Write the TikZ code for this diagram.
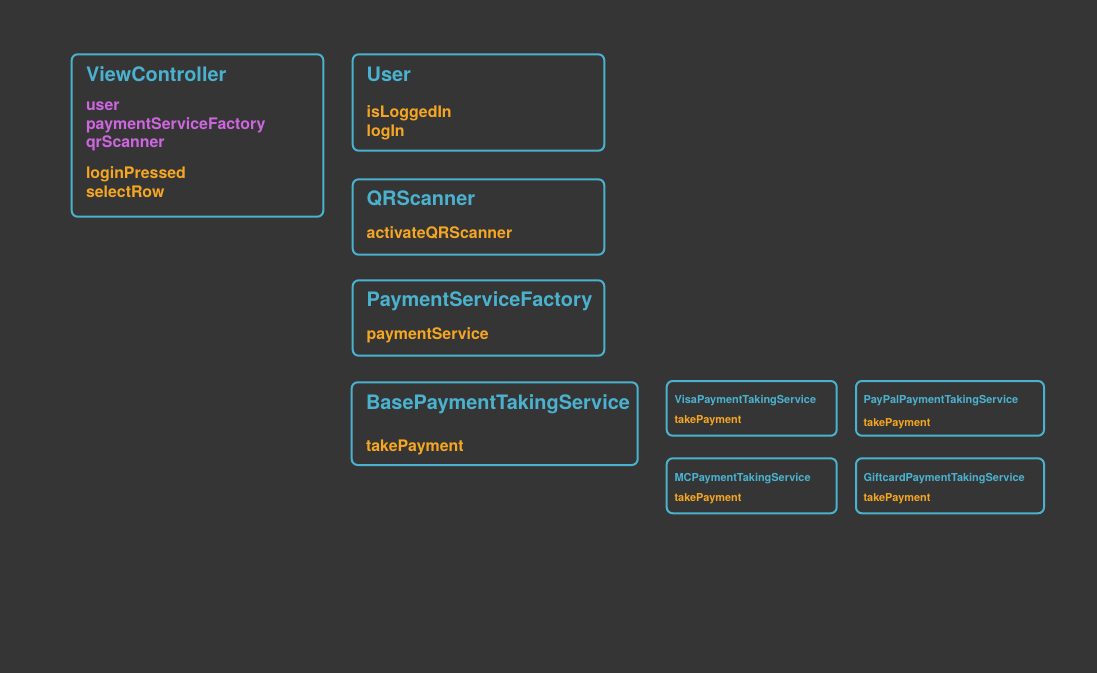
\documentclass[tikz,border=0pt]{standalone}
\usepackage{fontspec}
\setmainfont{TeX Gyre Heros}
\definecolor{bg}{RGB}{53,53,53}
\definecolor{classblue}{RGB}{74,178,207}
\definecolor{propviolet}{RGB}{206,102,224}
\definecolor{methorange}{RGB}{245,166,35}
\tikzset{
  classbox/.style={draw=classblue, line width=2pt, rounded corners=6pt,
    inner sep=0pt, outer sep=0pt, anchor=north west},
  txt/.style={inner sep=0pt, outer sep=0pt, anchor=base west, font=\bfseries},
  bigtitle/.style={txt, text=classblue, font=\bfseries\fontsize{19.9}{22}\selectfont},
  prop/.style={txt, text=propviolet, font=\bfseries\fontsize{15.9}{18}\selectfont},
  meth/.style={txt, text=methorange, font=\bfseries\fontsize{15.9}{18}\selectfont},
  smalltitle/.style={txt, text=classblue, font=\bfseries\fontsize{10.95}{12}\selectfont},
  smallmeth/.style={txt, text=methorange, font=\bfseries\fontsize{10.9}{12}\selectfont},
}
\begin{document}
\begin{tikzpicture}[x=1pt, y=-1pt]
  % canvas
  \path[fill=bg, use as bounding box] (0,0) rectangle (1097,673);

  % ViewController
  \node[classbox, minimum width=251.6pt, minimum height=162.4pt] (vc) at (71.7,54.3) {};
  \node[bigtitle] (vc-title) at (86,81.3) {ViewController};
  \node[prop] (vc-p1) at (86,110.6) {user};
  \node[prop] (vc-p2) at (86,129) {paymentServiceFactory};
  \node[prop] (vc-p3) at (86,147.4) {qrScanner};
  \node[meth] (vc-m1) at (86,178.9) {loginPressed};
  \node[meth] (vc-m2) at (86,197.8) {selectRow};

  % User
  \node[classbox, minimum width=251.6pt, minimum height=96.4pt] (user) at (352.7,54.3) {};
  \node[bigtitle] (user-title) at (366.7,81.3) {User};
  \node[meth] (user-m1) at (366.7,117.9) {isLoggedIn};
  \node[meth] (user-m2) at (366.7,136.2) {logIn};

  % QRScanner
  \node[classbox, minimum width=251.6pt, minimum height=75.4pt] (qr) at (352.7,179.3) {};
  \node[bigtitle] (qr-title) at (366.7,205.9) {QRScanner};
  \node[meth] (qr-m1) at (366.7,238.4) {activateQRScanner};

  % PaymentServiceFactory
  \node[classbox, minimum width=251.6pt, minimum height=75.4pt] (psf) at (352.7,280.3) {};
  \node[bigtitle] (psf-title) at (366.7,306.9) {PaymentServiceFactory};
  \node[meth] (psf-m1) at (366.7,339.4) {paymentService};

  % BasePaymentTakingService
  \node[classbox, minimum width=286pt, minimum height=82.7pt] (base) at (351.7,382.3) {};
  \node[bigtitle] (base-title) at (366,409.5) {BasePaymentTakingService};
  \node[meth] (base-m1) at (366,451.9) {takePayment};

  % concrete payment services
  \node[classbox, minimum width=170pt, minimum height=54.7pt] (visa) at (666.7,381) {};
  \node[smalltitle] (visa-title) at (674.5,403.6) {VisaPaymentTakingService};
  \node[smallmeth] (visa-m1) at (674.5,423) {takePayment};

  \node[classbox, minimum width=188pt, minimum height=54.7pt] (paypal) at (856,381) {};
  \node[smalltitle] (paypal-title) at (863.5,403.6) {PayPalPaymentTakingService};
  \node[smallmeth] (paypal-m1) at (863.5,426) {takePayment};

  \node[classbox, minimum width=170pt, minimum height=55pt] (mc) at (666.7,458.3) {};
  \node[smalltitle] (mc-title) at (674.5,481.3) {MCPaymentTakingService};
  \node[smallmeth] (mc-m1) at (674.5,501) {takePayment};

  \node[classbox, minimum width=188pt, minimum height=55pt] (gift) at (856,458.3) {};
  \node[smalltitle] (gift-title) at (863.5,481.3) {GiftcardPaymentTakingService};
  \node[smallmeth] (gift-m1) at (863.5,501) {takePayment};
\end{tikzpicture}
\end{document}
